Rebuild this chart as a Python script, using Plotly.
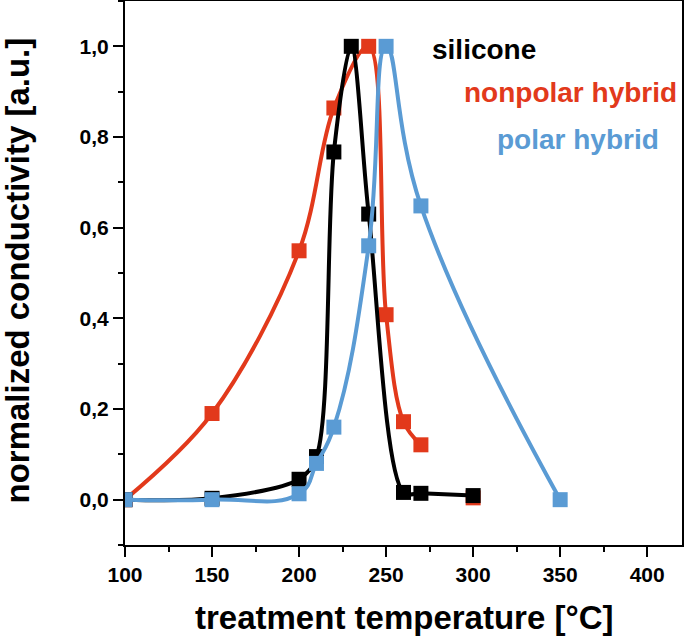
import plotly.graph_objects as go

# Data
silicone_x = [100, 150, 200, 210, 220, 230, 240, 260, 270, 300]
silicone_y = [0.0, 0.003, 0.045, 0.095, 0.767, 1.0, 0.63, 0.016, 0.014, 0.009]

nonpolar_x = [100, 150, 200, 220, 240, 250, 260, 270]
nonpolar_y = [0.0, 0.19, 0.549, 0.864, 1.0, 0.408, 0.172, 0.121]
nonpolar_extra_x = [300]
nonpolar_extra_y = [0.004]

polar_x = [100, 150, 200, 210, 220, 240, 250, 270, 350]
polar_y = [0.0, 0.0, 0.013, 0.08, 0.16, 0.56, 1.0, 0.648, 0.0]

x_ticks = [100, 150, 200, 250, 300, 350, 400]
y_ticks = [0.0, 0.2, 0.4, 0.6, 0.8, 1.0]

RED = "#E2391B"
BLUE = "#5A9BD4"
BLACK = "#000000"
FONT = "Liberation Sans, Arial, sans-serif"

fig = go.Figure()

def add(x, y, color, mode="lines+markers", smoothing=1.3):
    fig.add_trace(go.Scatter(
        x=x, y=y, mode=mode,
        line=dict(color=color, width=4, shape="spline", smoothing=smoothing),
        marker=dict(symbol="square", size=15, color=color),
        showlegend=False, hoverinfo="x+y"))

add(nonpolar_extra_x, nonpolar_extra_y, RED, mode="markers")
add(nonpolar_x, nonpolar_y, RED, smoothing=1.0)
add(silicone_x, silicone_y, BLACK, smoothing=0.9)
add(polar_x, polar_y, BLUE, smoothing=1.3)

labels = [("silicone", 276.0, 0.994, BLACK),
          ("nonpolar hybrid", 294.0, 0.898, RED),
          ("polar hybrid", 313.3, 0.794, BLUE)]
for txt, xx, yy, col in labels:
    fig.add_annotation(x=xx, y=yy, text="<b>%s</b>" % txt, showarrow=False,
                       xanchor="left", yanchor="middle", borderpad=0,
                       font=dict(family=FONT, size=28, color=col))

# axis titles as annotations for exact placement
fig.add_annotation(xref="paper", yref="paper", x=0.5, y=0, yshift=-72,
                   xanchor="center", yanchor="middle", showarrow=False,
                   text="<b>treatment temperature [°C]</b>",
                   font=dict(family=FONT, size=33, color="black"))
fig.add_annotation(xref="paper", yref="paper", x=0, y=0.5046, xshift=-108,
                   xanchor="center", yanchor="middle", showarrow=False,
                   textangle=-90,
                   text="<b>normalized conductivity [a.u.]</b>",
                   font=dict(family=FONT, size=33, color="black"))

axis_common = dict(showline=True, linecolor="black", linewidth=2, mirror=True,
                   ticks="outside", ticklen=10, tickwidth=2, tickcolor="black",
                   showgrid=False, zeroline=False, automargin=False,
                   tickfont=dict(family=FONT, size=21, color="black"))

fig.update_xaxes(range=[100, 420], tickvals=x_ticks,
                 ticktext=["<b>%d</b>" % v for v in x_ticks],
                 minor=dict(dtick=25, tick0=100, ticks="outside", ticklen=5,
                            tickwidth=2, tickcolor="black"),
                 **axis_common)
fig.update_yaxes(range=[-0.1, 1.1], tickvals=y_ticks,
                 ticktext=["<b>%s</b>" % ("%.1f" % v).replace(".", ",") for v in y_ticks],
                 minor=dict(dtick=0.1, tick0=0, ticks="outside", ticklen=5,
                            tickwidth=2, tickcolor="black"),
                 **axis_common)

fig.update_layout(width=685, height=640,
                  margin=dict(l=125, r=3, t=1, b=95, autoexpand=False),
                  plot_bgcolor="white", paper_bgcolor="white",
                  separators=",.")

fig.write_html("out.html", config={"displayModeBar": False},
               post_script="document.body.style.margin='0';document.body.style.overflow='hidden';")
